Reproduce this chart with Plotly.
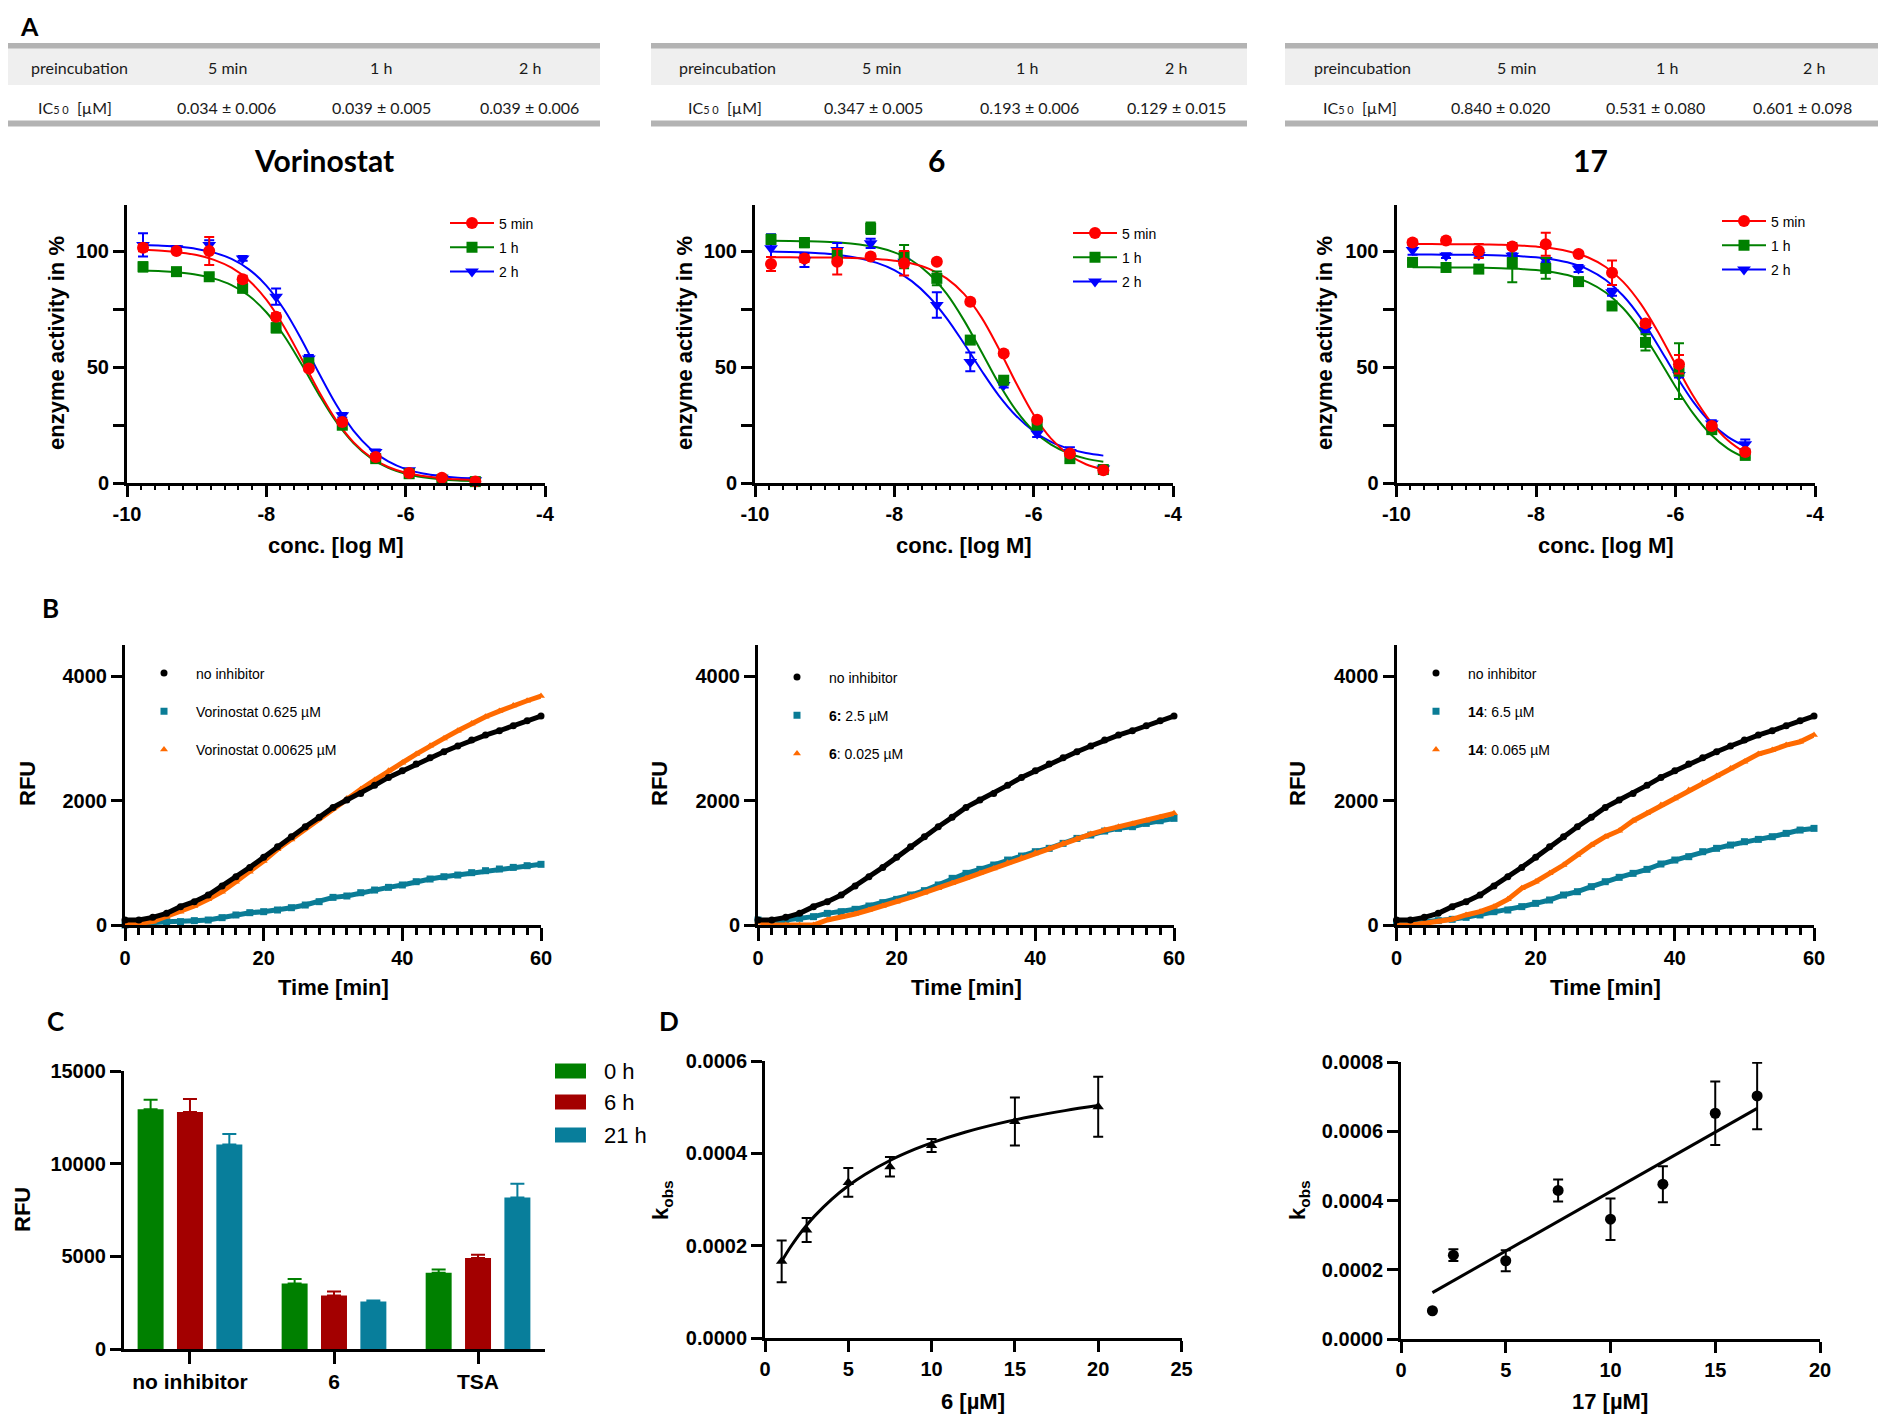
import plotly.graph_objects as go

# The page body has an 8px margin: the figure is sized so that it fills the 1886x1419 window.
PAGE_OFFSET = 8
W, H = 1886 - PAGE_OFFSET, 1419 - PAGE_OFFSET


def fx(px):
    return (px - PAGE_OFFSET) / W


def fy(py):
    return 1 - (py - PAGE_OFFSET) / H


# ---------------------------------------------------------------- DATA
TABLE_HEADER = ["preincubation", "5 min", "1 h", "2 h"]
IC50_LABEL = "IC<span style='font-size:11px'>5 0</span>  [µM]"
IC50_VOR = ["0.034 ± 0.006", "0.039 ± 0.005", "0.039 ± 0.006"]
IC50_6 = ["0.347 ± 0.005", "0.193 ± 0.006", "0.129 ± 0.015"]
IC50_17 = ["0.840 ± 0.020", "0.531 ± 0.080", "0.601 ± 0.098"]
A_TITLES = ["Vorinostat", "6", "17"]
SERIES_NAMES = ["5 min", "1 h", "2 h"]

A_X_TICKS = [-10, -8, -6, -4]
A_X_TICKTEXT = ["-10", "-8", "-6", "-4"]
A_Y_TICKS = [0, 50, 100]

LOG_CONC = [-9.77, -9.29, -8.82, -8.34, -7.86, -7.39, -6.91, -6.43, -5.95, -5.48, -5.00]
FIT_LOG_CONC = [-9.77, -9.5, -9.25, -9.0, -8.75, -8.5, -8.25, -8.0, -7.75, -7.5,
                -7.25, -7.0, -6.75, -6.5, -6.25, -6.0, -5.75, -5.5, -5.25, -5.0]

VOR_5MIN = [101.4, 100.0, 100.0, 87.8, 71.7, 49.4, 26.3, 11.2, 4.3, 2.3, 0.7]
VOR_5MIN_ERR = [1.5, 1.0, 6.0, 1.5, 1.5, 1.0, 1.0, 1.0, 0.5, 0.5, 0.5]
VOR_1H = [93.2, 91.1, 88.9, 83.9, 66.9, 51.8, 24.9, 10.5, 4.0, 1.4, 0.6]
VOR_1H_ERR = [2.0, 1.0, 1.0, 1.5, 2.0, 1.5, 1.5, 1.0, 0.5, 0.5, 0.5]
VOR_2H = [102.6, 101.2, 102.6, 96.8, 80.3, 53.7, 29.2, 13.4, 5.5, 2.3, 1.2]
VOR_2H_ERR = [5.0, 1.0, 2.0, 1.0, 3.5, 1.5, 1.0, 1.0, 0.5, 0.5, 0.5]
VOR_FIT_5MIN = [100.5, 100.1, 99.4, 98.3, 96.2, 92.8, 87.3, 79.0, 67.6, 53.9,
                39.7, 27.2, 17.6, 11.1, 6.9, 4.4, 3.0, 2.1, 1.6, 1.35]
VOR_FIT_1H = [91.6, 91.3, 90.7, 89.8, 88.1, 85.3, 80.7, 73.6, 63.7, 51.5,
              38.4, 26.5, 17.2, 10.7, 6.5, 4.0, 2.5, 1.6, 1.1, 0.9]
VOR_FIT_2H = [102.6, 102.3, 101.8, 100.9, 99.3, 96.6, 92.1, 85.1, 75.0, 62.1,
              47.6, 33.9, 22.6, 14.6, 9.3, 6.0, 4.1, 3.0, 2.3, 2.0]

C6_5MIN = [94.4, 96.8, 95.4, 97.6, 94.7, 95.4, 78.1, 55.8, 27.3, 12.7, 5.5]
C6_5MIN_ERR = [3.0, 1.5, 5.5, 1.0, 5.3, 1.0, 1.0, 1.0, 1.0, 1.0, 0.5]
C6_1H = [105.0, 103.6, 98.3, 109.8, 97.6, 88.2, 61.6, 44.3, 24.9, 10.5, 5.8]
C6_1H_ERR = [2.0, 2.0, 2.0, 2.5, 5.0, 3.0, 1.5, 1.0, 1.5, 1.0, 1.0]
C6_2H = [101.2, 96.1, 100.4, 103.3, 95.4, 76.7, 52.2, 42.2, 21.3, 13.4, 6.2]
C6_2H_ERR = [6.0, 3.0, 3.0, 2.0, 2.0, 5.5, 4.0, 1.0, 1.5, 2.0, 1.0]
C6_FIT_5MIN = [97.3, 97.3, 97.2, 97.2, 97.1, 96.9, 96.5, 95.8, 94.6, 92.3,
               88.2, 81.5, 71.4, 57.9, 43.0, 29.4, 19.1, 12.3, 8.1, 5.8]
C6_FIT_1H = [104.4, 104.3, 104.2, 104.0, 103.6, 102.8, 101.6, 99.4, 95.9, 90.1,
             81.6, 70.1, 56.6, 42.9, 31.2, 22.4, 16.5, 12.8, 10.5, 9.2]
C6_FIT_2H = [99.8, 99.6, 99.3, 98.9, 98.1, 96.9, 94.9, 91.8, 87.0, 80.2,
             71.1, 60.1, 48.5, 37.7, 28.9, 22.3, 17.7, 14.8, 12.9, 11.8]

C17_5MIN = [103.7, 104.5, 100.0, 101.9, 102.9, 98.7, 90.6, 68.8, 51.2, 24.6, 13.4]
C17_5MIN_ERR = [1.0, 1.0, 3.0, 1.0, 5.0, 1.0, 5.3, 1.5, 4.0, 1.0, 1.0]
C17_1H = [95.1, 92.9, 92.2, 95.0, 92.5, 86.8, 76.3, 60.6, 48.2, 23.0, 11.9]
C17_1H_ERR = [1.0, 1.0, 1.0, 8.5, 4.5, 1.5, 1.0, 3.5, 12.0, 1.0, 1.0]
C17_2H = [100.4, 98.0, 98.3, 98.0, 96.1, 92.5, 82.2, 65.9, 46.5, 25.6, 16.7]
C17_2H_ERR = [2.0, 1.0, 1.0, 1.0, 1.0, 1.5, 1.5, 1.0, 1.0, 1.5, 2.0]
C17_FIT_5MIN = [103.0, 103.0, 102.9, 102.9, 102.8, 102.7, 102.4, 101.9, 101.1, 99.6,
                97.2, 93.1, 86.7, 77.3, 65.1, 51.2, 37.7, 26.6, 18.4, 13.0]
C17_FIT_1H = [93.0, 93.0, 92.9, 92.9, 92.8, 92.6, 92.3, 91.8, 90.8, 89.2,
              86.5, 82.1, 75.3, 65.8, 54.0, 41.5, 30.1, 21.1, 14.8, 10.8]
C17_FIT_2H = [98.5, 98.5, 98.4, 98.4, 98.3, 98.1, 97.8, 97.3, 96.3, 94.7,
              92.0, 87.5, 80.7, 71.2, 59.3, 46.7, 35.2, 26.2, 19.9, 15.8]

# Panel B: kinetic reads (RFU), every 2 min
TIME_MIN = [0, 2, 4, 6, 8, 10, 12, 14, 16, 18, 20, 22, 24, 26, 28, 30,
            32, 34, 36, 38, 40, 42, 44, 46, 48, 50, 52, 54, 56, 58, 60]
B_X_TICKS = [0, 20, 40, 60]
B_Y_TICKS = [0, 2000, 4000]
NO_INHIBITOR = [80, 80, 123, 187, 295, 375, 482, 627, 777, 926, 1087, 1258, 1419, 1580, 1730, 1890,
                2008, 2115, 2244, 2372, 2479, 2586, 2688, 2785, 2876, 2972, 3052, 3122, 3202, 3283, 3358]
VOR_HIGH = [0, 27, 37, 54, 54, 70, 80, 118, 161, 198, 214, 241, 278, 321, 375, 444,
            466, 519, 562, 605, 643, 696, 739, 776, 803, 841, 873, 900, 926, 953, 975]
VOR_LOW = [27, 27, 54, 134, 214, 305, 412, 535, 696, 857, 1028, 1216, 1376, 1553, 1714, 1874,
           2035, 2180, 2329, 2479, 2608, 2747, 2881, 2999, 3122, 3240, 3347, 3438, 3529, 3604, 3679]
C6_HIGH = [80, 54, 80, 107, 134, 187, 214, 252, 305, 359, 412, 482, 552, 643, 750, 830,
           894, 964, 1044, 1108, 1178, 1232, 1312, 1392, 1446, 1510, 1553, 1580, 1633, 1676, 1714]
C6_LOW = [54, 0, 0, 0, 0, 80, 123, 177, 241, 305, 375, 444, 519, 589, 669, 750,
          830, 910, 1001, 1082, 1162, 1232, 1312, 1392, 1462, 1526, 1580, 1623, 1676, 1730, 1794]
C17_HIGH = [27, 16, 54, 70, 91, 123, 161, 214, 241, 295, 348, 402, 482, 535, 616, 696,
            766, 830, 894, 980, 1044, 1098, 1178, 1232, 1285, 1339, 1376, 1419, 1473, 1526, 1553]
C17_LOW = [0, 0, 27, 54, 91, 161, 214, 295, 412, 589, 696, 830, 964, 1125, 1285, 1419,
           1516, 1676, 1794, 1928, 2035, 2169, 2287, 2394, 2517, 2624, 2747, 2811, 2892, 2945, 3052]
BOLD = "<span style='font-weight:bold;font-size:14px'>{}</span>"
B_NAMES = [
    ["no inhibitor", "Vorinostat 0.625 µM", "Vorinostat 0.00625 µM"],
    ["no inhibitor", BOLD.format("6:") + " 2.5 µM", BOLD.format("6") + ": 0.025 µM"],
    ["no inhibitor", BOLD.format("14") + ": 6.5 µM", BOLD.format("14") + ": 0.065 µM"],
]

# Panel C
C_CATEGORIES = ["no inhibitor", "6", "TSA"]
C_NAMES = ["0 h", "6 h", "21 h"]
C_0H = [12934, 3539, 4114]
C_0H_ERR = [521, 233, 179]
C_6H = [12790, 2892, 4904]
C_6H_ERR = [700, 216, 180]
C_21H = [11030, 2569, 8174]
C_21H_ERR = [575, 54, 736]
C_Y_TICKS = [0, 5000, 10000, 15000]

# Panel D
D1_X = [1, 2.5, 5, 7.5, 10, 15, 20]
D1_Y = [0.000166, 0.000234, 0.000337, 0.000371, 0.000417, 0.000469, 0.000501]
D1_ERR = [0.000045, 0.000026, 0.000031, 0.000021, 0.000014, 0.000052, 0.000065]
D1_FIT_X = [1, 1.5, 2, 2.5, 3, 4, 5, 6, 7.5, 9, 10, 12, 14, 16, 18, 20]
D1_FIT_Y = [0.0001660, 0.0001954, 0.0002214, 0.0002444, 0.0002651, 0.0003005, 0.0003297, 0.0003542,
            0.0003845, 0.0004089, 0.0004227, 0.0004458, 0.0004644, 0.0004797, 0.0004925, 0.0005034]
D1_X_TICKS = [0, 5, 10, 15, 20, 25]
D1_Y_TICKS = [0, 0.0002, 0.0004, 0.0006]

D2_X = [1.5, 2.5, 5, 7.5, 10, 12.5, 15, 17]
D2_Y = [0.0000816, 0.000242, 0.000226, 0.000429, 0.000346, 0.000447, 0.000652, 0.000702]
D2_ERR = [0.0, 0.000017, 0.00003, 0.000032, 0.00006, 0.000052, 0.000092, 0.000096]
D2_FIT_X = [1.5, 17]
D2_FIT_Y = [0.000134, 0.000666]
D2_X_TICKS = [0, 5, 10, 15, 20]
D2_Y_TICKS = [0, 0.0002, 0.0004, 0.0006, 0.0008]

# ---------------------------------------------------------------- STYLE
RED, GREEN, BLUE = "#FF0000", "#008000", "#0000FF"
TEAL, ORANGE, BLACK = "#0A7C96", "#FF6A00", "#000000"
BAR_COLORS = ["#008000", "#A30000", "#087E9B"]
ARIAL = "Liberation Sans, Arial, sans-serif"
CALIBRI = "Lato, Carlito, Calibri, sans-serif"
TICKFONT = dict(family=ARIAL, size=20, color="black", weight="bold")
KOBS = "k<sub style='font-size:15px'>obs</sub>"

fig = go.Figure()


def axstyle(**kw):
    d = dict(showline=True, linewidth=3, linecolor="black", ticks="outside", tickwidth=3,
             ticklen=11, tickcolor="black", showgrid=False, zeroline=False, automargin=False,
             tickfont=TICKFONT, fixedrange=True)
    d.update(kw)
    return d


# ---------------------------------------------------------------- PANEL A
A_DOMAINS = [(127, 545), (755, 1173), (1396.5, 1815)]
A_LEGEND_POS = [(445, 207.5), (1068, 217.5), (1717, 205.5)]
A_DATA = [
    (VOR_FIT_5MIN, VOR_FIT_1H, VOR_FIT_2H, VOR_5MIN, VOR_1H, VOR_2H, VOR_5MIN_ERR, VOR_1H_ERR, VOR_2H_ERR),
    (C6_FIT_5MIN, C6_FIT_1H, C6_FIT_2H, C6_5MIN, C6_1H, C6_2H, C6_5MIN_ERR, C6_1H_ERR, C6_2H_ERR),
    (C17_FIT_5MIN, C17_FIT_1H, C17_FIT_2H, C17_5MIN, C17_1H, C17_2H, C17_5MIN_ERR, C17_1H_ERR, C17_2H_ERR),
]
A_COLORS = [RED, GREEN, BLUE]
A_SYMBOLS = ["circle", "square", "triangle-down"]
A_SIZES = [12, 11, 12]

for p in range(3):
    n = p + 1
    xa, ya = ("x", "y") if n == 1 else (f"x{n}", f"y{n}")
    leg = "legend" if n == 1 else f"legend{n}"
    d = A_DATA[p]
    fits, pts, errs = d[0:3], d[3:6], d[6:9]
    for s in (2, 1, 0):
        fig.add_trace(go.Scatter(
            x=FIT_LOG_CONC, y=fits[s], mode="lines", showlegend=False,
            line=dict(color=A_COLORS[s], width=2, shape="spline"),
            xaxis=xa, yaxis=ya, legendgroup=f"a{n}{s}", hoverinfo="skip"))
    for s in (2, 1, 0):
        fig.add_trace(go.Scatter(
            x=LOG_CONC, y=pts[s], mode="markers", showlegend=False,
            marker=dict(symbol=A_SYMBOLS[s], size=A_SIZES[s], color=A_COLORS[s]),
            error_y=dict(type="data", array=errs[s], color=A_COLORS[s], thickness=2, width=5),
            xaxis=xa, yaxis=ya, legendgroup=f"a{n}{s}", cliponaxis=False))
    # legend entries (line + symbol, as in the reference legend)
    for s in range(3):
        fig.add_trace(go.Scatter(
            x=[None], y=[None], mode="lines+markers", name=SERIES_NAMES[s],
            line=dict(color=A_COLORS[s], width=2),
            marker=dict(symbol=A_SYMBOLS[s], size=A_SIZES[s], color=A_COLORS[s]),
            xaxis=xa, yaxis=ya, legend=leg, legendgroup=f"a{n}{s}", legendrank=s + 1))
    x0, x1 = A_DOMAINS[p]
    fig.update_layout(**{
        ("xaxis" if n == 1 else f"xaxis{n}"): axstyle(
            domain=[fx(x0), fx(x1)], range=[-10, -4], tickvals=A_X_TICKS, ticktext=A_X_TICKTEXT,
            anchor=ya, minor=dict(dtick=0.2, tick0=-10, ticklen=4, tickwidth=2, ticks="outside",
                                  tickcolor="black")),
        ("yaxis" if n == 1 else f"yaxis{n}"): axstyle(
            domain=[fy(483), fy(204.6)], range=[0, 120], tickvals=A_Y_TICKS, anchor=xa,
            minor=dict(tickvals=[25, 75], ticklen=11, tickwidth=3, ticks="outside", tickcolor="black")),
        leg: dict(x=fx(A_LEGEND_POS[p][0]), y=fy(A_LEGEND_POS[p][1]), xanchor="left", yanchor="top",
                  bgcolor="rgba(0,0,0,0)", borderwidth=0, itemwidth=44, tracegroupgap=3,
                  itemsizing="trace", traceorder="grouped",
                  font=dict(family=ARIAL, size=14, color="black")),
    })

# ---------------------------------------------------------------- PANEL B
B_DOMAINS = [(125, 541), (758, 1174), (1396.5, 1814)]
B_LEGEND_POS = [(132, 657.5), (765, 661.5), (1404, 657.5)]
B_DATA = [(NO_INHIBITOR, VOR_HIGH, VOR_LOW), (NO_INHIBITOR, C6_HIGH, C6_LOW),
          (NO_INHIBITOR, C17_HIGH, C17_LOW)]
B_COLORS = [BLACK, TEAL, ORANGE]
B_SYMBOLS = ["circle", "square", "triangle-up"]

for p in range(3):
    n = p + 4
    xa, ya = f"x{n}", f"y{n}"
    leg = f"legend{n}"
    for s in (1, 2, 0):
        fig.add_trace(go.Scatter(
            x=TIME_MIN, y=B_DATA[p][s], mode="lines", showlegend=False,
            line=dict(color=B_COLORS[s], width=5), xaxis=xa, yaxis=ya, hoverinfo="skip"))
        fig.add_trace(go.Scatter(
            x=TIME_MIN, y=B_DATA[p][s], mode="markers", name=B_NAMES[p][s],
            marker=dict(symbol=B_SYMBOLS[s], size=7, color=B_COLORS[s]),
            xaxis=xa, yaxis=ya, legend=leg, legendgroup=f"b{n}{s}", legendrank=s + 1,
            cliponaxis=False))
    x0, x1 = B_DOMAINS[p]
    fig.update_layout(**{
        f"xaxis{n}": axstyle(domain=[fx(x0), fx(x1)], range=[0, 60], tickvals=B_X_TICKS, anchor=ya,
                             ticklen=13,
                             minor=dict(dtick=2, tick0=0, ticklen=7, tickwidth=3, ticks="outside",
                                        tickcolor="black")),
        f"yaxis{n}": axstyle(domain=[fy(925), fy(645)], range=[0, 4500], tickvals=B_Y_TICKS, anchor=xa),
        leg: dict(x=fx(B_LEGEND_POS[p][0]), y=fy(B_LEGEND_POS[p][1]), xanchor="left", yanchor="top",
                  bgcolor="rgba(0,0,0,0)", borderwidth=0, itemwidth=54, tracegroupgap=17,
                  itemsizing="trace", traceorder="grouped",
                  font=dict(family=ARIAL, size=14, color="black")),
    })

# ---------------------------------------------------------------- PANEL C
C_VALUES = [(C_0H, C_0H_ERR), (C_6H, C_6H_ERR), (C_21H, C_21H_ERR)]
for s in range(3):
    vals, err = C_VALUES[s]
    fig.add_trace(go.Bar(
        x=C_CATEGORIES, y=vals, name=C_NAMES[s], showlegend=False,
        marker=dict(color=BAR_COLORS[s], line=dict(width=0)),
        error_y=dict(type="data", array=err, arrayminus=[0, 0, 0], symmetric=False,
                     color=BAR_COLORS[s], thickness=2, width=7),
        xaxis="x7", yaxis="y7"))
fig.update_layout(
    barmode="group", bargap=0.18, bargroupgap=0.34,
    xaxis7=axstyle(domain=[fx(124), fx(545)], type="category", range=[-0.458, 2.465], anchor="y7",
                   ticklen=12, tickfont=dict(family=ARIAL, size=21, color="black", weight="bold")),
    yaxis7=axstyle(domain=[fy(1349), fy(1071)], range=[0, 15000], tickvals=C_Y_TICKS,
                   tickformat="d", anchor="x7"),
)

# ---------------------------------------------------------------- PANEL D
fig.add_trace(go.Scatter(x=D1_FIT_X, y=D1_FIT_Y, mode="lines", showlegend=False,
                         line=dict(color=BLACK, width=3, shape="spline"), xaxis="x8", yaxis="y8"))
fig.add_trace(go.Scatter(x=D1_X, y=D1_Y, mode="markers", showlegend=False,
                         marker=dict(symbol="triangle-up", size=10, color=BLACK),
                         error_y=dict(type="data", array=D1_ERR, color=BLACK, thickness=2, width=5),
                         xaxis="x8", yaxis="y8", cliponaxis=False))
fig.add_trace(go.Scatter(x=D2_FIT_X, y=D2_FIT_Y, mode="lines", showlegend=False,
                         line=dict(color=BLACK, width=3), xaxis="x9", yaxis="y9"))
fig.add_trace(go.Scatter(x=D2_X, y=D2_Y, mode="markers", showlegend=False,
                         marker=dict(symbol="circle", size=11, color=BLACK),
                         error_y=dict(type="data", array=D2_ERR, color=BLACK, thickness=2, width=5),
                         xaxis="x9", yaxis="y9", cliponaxis=False))
fig.update_layout(
    xaxis8=axstyle(domain=[fx(765), fx(1181.5)], range=[0, 25], tickvals=D1_X_TICKS, anchor="y8"),
    yaxis8=axstyle(domain=[fy(1338), fy(1061)], range=[0, 0.0006], tickvals=D1_Y_TICKS,
                   tickformat=".4f", anchor="x8"),
    xaxis9=axstyle(domain=[fx(1401), fx(1820)], range=[0, 20], tickvals=D2_X_TICKS, anchor="y9"),
    yaxis9=axstyle(domain=[fy(1339), fy(1062)], range=[0, 0.0008], tickvals=D2_Y_TICKS,
                   tickformat=".4f", anchor="x9"),
)

# ---------------------------------------------------------------- TEXT / TABLES
annotations = []
shapes = []


def ann(text, x, y, size, family=ARIAL, weight="bold", xanchor="center", angle=0, color="black",
        yanchor="middle"):
    annotations.append(dict(text=text, x=fx(x), y=fy(y), xref="paper", yref="paper",
                            xanchor=xanchor, yanchor=yanchor, showarrow=False, textangle=angle,
                            font=dict(family=family, size=size, color=color, weight=weight)))


# panel letters
ann("A", 29, 8.5, 25, family=CALIBRI, yanchor="top")
ann("B", 50, 608, 26, family=CALIBRI)
ann("C", 55, 1021, 26, family=CALIBRI)
ann("D", 669, 1021, 26, family=CALIBRI)

# tables
TABLES = [
    ((5, 600), [79, 227, 381, 530], [75, 226, 381, 529], IC50_VOR, 324),
    ((651, 1247), [727, 881, 1027, 1176], [725, 873, 1029, 1176], IC50_6, 936),
    ((1285, 1880), [1362, 1516, 1667, 1814], [1360, 1500, 1655, 1802], IC50_17, 1590),
]
for t, ((tx0, tx1), hcols, vcols, vals, title_x) in enumerate(TABLES):
    shapes.append(dict(type="rect", xref="paper", yref="paper", x0=fx(tx0), x1=fx(tx1),
                       y0=fy(85), y1=fy(48), fillcolor="#EFEFEF", line=dict(width=0), layer="below"))
    for (a, b) in [(43, 48.5), (120.5, 126.5)]:
        shapes.append(dict(type="rect", xref="paper", yref="paper", x0=fx(tx0), x1=fx(tx1),
                           y0=fy(b), y1=fy(a), fillcolor="#B3B3B3", line=dict(width=0)))
    for c in range(4):
        ann(TABLE_HEADER[c], hcols[c], 68, 16, family=CALIBRI, weight="normal", color="#1A1A1A")
    ann(IC50_LABEL, vcols[0], 107, 16, family=CALIBRI, weight="normal", color="#1A1A1A")
    for c in range(3):
        ann(vals[c], vcols[c + 1], 107, 16, family=CALIBRI, weight="normal", color="#1A1A1A")
    ann(A_TITLES[t], title_x, 160, 30, family=CALIBRI)

# axis titles
for cx, yx in [(336, 57), (964, 685), (1606, 1325)]:
    ann("conc. [log M]", cx, 545, 22)
    ann("enzyme activity in %", yx, 343, 22, angle=-90)
for cx, yx in [(333, 27), (966, 659), (1605, 1297)]:
    ann("Time [min]", cx, 987, 22)
    ann("RFU", yx, 784, 22, angle=-90)
ann("RFU", 22, 1210, 22, angle=-90)
ann(KOBS, 662, 1200, 22, angle=-90)
ann(KOBS, 1299, 1200, 22, angle=-90)
ann("6 [µM]", 973, 1401, 22)
ann("17 [µM]", 1610, 1401, 22)

# panel C legend
for s, row in enumerate([1071, 1102, 1135]):
    shapes.append(dict(type="rect", xref="paper", yref="paper", x0=fx(555), x1=fx(586),
                       y0=fy(row + 7.5), y1=fy(row - 7.5), fillcolor=BAR_COLORS[s], line=dict(width=0)))
    ann(C_NAMES[s], 602, row, 22, weight="normal", xanchor="left")

fig.update_layout(
    width=W, height=H, margin=dict(l=0, r=0, t=0, b=0, autoexpand=False),
    paper_bgcolor="white", plot_bgcolor="white", showlegend=True,
    annotations=annotations, shapes=shapes,
)

fig.write_html("out.html")
